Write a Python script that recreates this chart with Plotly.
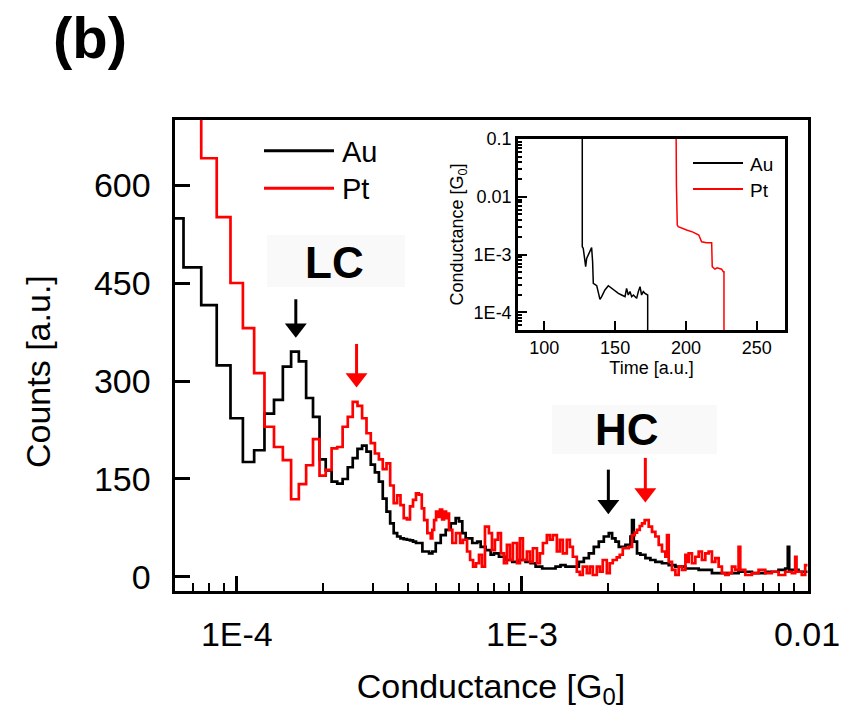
import math
import plotly.graph_objects as go

W, H = 857, 721

# ---------------- Main histogram data ----------------
# Au: linear bins, left edges in units of 1e-5 G0, with counts
au_bin_left_1e5 = [5.5, 6.5, 7.5, 8.5, 9.5, 10.5, 11.5, 12.5, 13.5, 14.5,
                   15.5, 16.5, 17.5, 18.5, 19.5, 20.5, 21.5, 22.5, 23.5, 24.5,
                   25.5, 26.5, 27.5, 28.5, 29.5, 30.5, 31.5, 32.5, 33.5, 34.5,
                   35.5, 36.5, 37.5, 38.5, 39.5, 40.5, 41.5, 42.5]
au_bin_counts = [549, 474, 416, 324, 243, 176, 194, 250, 271, 322,
                 345, 330, 274, 245, 180, 163, 146, 143, 150, 168,
                 182, 196, 201, 192, 172, 160, 146, 120, 100, 82,
                 67, 62, 59, 58, 57, 56, 54, 52]
# Au: high-conductance part (G0) where bins are narrower than the line
au_tail_g = [4.476e-4, 4.724e-4, 4.851e-4, 4.986e-4, 5.191e-4, 5.404e-4, 5.627e-4, 5.857e-4, 6.015e-4, 6.178e-4,
             6.349e-4, 6.696e-4, 6.972e-4, 7.166e-4, 7.462e-4, 7.769e-4, 7.978e-4, 8.307e-4, 8.768e-4, 9.249e-4,
             9.761e-4, 1.030e-3, 1.073e-3, 1.117e-3, 1.178e-3, 1.243e-3, 1.312e-3, 1.366e-3, 1.422e-3, 1.501e-3,
             1.584e-3, 1.649e-3, 1.717e-3, 1.787e-3, 1.861e-3, 1.938e-3, 2.017e-3, 2.072e-3, 2.129e-3, 2.187e-3,
             2.308e-3, 2.403e-3, 2.434e-3, 2.468e-3, 2.534e-3, 2.604e-3, 2.712e-3, 2.823e-3, 2.939e-3, 3.100e-3,
             3.273e-3, 3.455e-3, 3.745e-3, 4.169e-3, 4.640e-3, 5.170e-3, 5.755e-3, 6.409e-3, 7.140e-3, 7.946e-3,
             8.386e-3, 8.565e-3, 8.662e-3, 9.337e-3, 1.02e-2]
au_tail_counts = [39, 36, 39, 52, 64, 72, 82, 90, 85, 67,
                  59, 52, 54, 46, 41, 34, 36, 31, 26, 23,
                  26, 23, 21, 16, 13, 13, 16, 18, 16, 16,
                  23, 29, 36, 46, 54, 62, 67, 59, 54, 46,
                  49, 62, 87, 54, 36, 34, 29, 26, 23, 21,
                  18, 16, 13, 11, 6, 6, 8, 6, 8, 11,
                  13, 46, 11, 8, 8]

# Pt
pt_bin_left_1e5 = [5.5, 6.5, 7.5, 8.5, 9.5, 10.5, 11.5, 12.5, 13.5, 14.5,
                   15.5, 16.5, 17.5, 18.5, 19.5, 20.5, 21.5, 22.5, 23.5, 24.5,
                   25.5, 26.5, 27.5, 28.5, 29.5, 30.5, 31.5, 32.5, 33.5, 34.5,
                   35.5, 36.5, 37.5, 38.5, 39.5, 40.5, 41.5, 42.5, 43.5]
pt_bin_counts = [800, 760, 641, 551, 450, 381, 312, 230, 199, 179,
                 119, 142, 171, 211, 155, 164, 197, 199, 230, 245,
                 268, 262, 243, 220, 205, 189, 180, 165, 174, 140,
                 113, 125, 110, 90, 88, 108, 118, 128, 126]
pt_tail_g = [4.454e-4, 4.54e-4, 4.66e-4, 4.79e-4, 4.85e-4, 4.92e-4, 5.00e-4, 5.08e-4, 5.16e-4, 5.25e-4,
             5.33e-4, 5.42e-4, 5.51e-4, 5.55e-4, 5.70e-4, 5.87e-4, 6.07e-4, 6.21e-4, 6.42e-4, 6.58e-4,
             6.74e-4, 6.90e-4, 7.07e-4, 7.24e-4, 7.42e-4, 7.66e-4, 7.85e-4, 8.04e-4, 8.24e-4, 8.44e-4,
             8.65e-4, 8.86e-4, 9.08e-4, 9.30e-4, 9.61e-4, 9.84e-4, 1.008e-3, 1.041e-3, 1.067e-3, 1.093e-3,
             1.129e-3, 1.156e-3, 1.185e-3, 1.223e-3, 1.253e-3, 1.284e-3, 1.326e-3, 1.359e-3, 1.392e-3, 1.437e-3,
             1.473e-3, 1.509e-3, 1.558e-3, 1.596e-3, 1.635e-3, 1.689e-3, 1.730e-3, 1.773e-3, 1.831e-3, 1.876e-3,
             1.921e-3, 1.985e-3, 2.033e-3, 2.083e-3, 2.151e-3, 2.204e-3, 2.258e-3, 2.308e-3, 2.370e-3, 2.434e-3,
             2.488e-3, 2.534e-3, 2.590e-3, 2.639e-3, 2.696e-3, 2.785e-3, 2.860e-3, 2.939e-3, 3.019e-3, 3.100e-3,
             3.186e-3, 3.228e-3, 3.273e-3, 3.361e-3, 3.455e-3, 3.547e-3, 3.643e-3, 3.745e-3, 3.793e-3, 3.845e-3,
             3.949e-3, 4.058e-3, 4.169e-3, 4.280e-3, 4.399e-3, 4.519e-3, 4.640e-3, 4.769e-3, 4.898e-3, 5.030e-3,
             5.170e-3, 5.309e-3, 5.452e-3, 5.604e-3, 5.755e-3, 5.834e-3, 6.074e-3, 6.409e-3, 6.764e-3, 7.140e-3,
             7.528e-3, 7.946e-3, 8.386e-3, 8.847e-3, 9.092e-3, 9.189e-3, 9.590e-3, 9.855e-3, 1.02e-2]
pt_tail_counts = [105, 87, 67, 59, 72, 87, 100, 92, 103, 88,
                  100, 90, 97, 72, 52, 67, 52, 57, 39, 26,
                  16, 21, 34, 16, 77, 67, 41, 57, 67, 36,
                  21, 49, 26, 52, 21, 59, 26, 39, 23, 44,
                  21, 36, 52, 64, 57, 64, 39, 57, 36, 57,
                  46, 31, 8, 3, 16, 6, 16, 3, 16, 8,
                  26, 6, 21, 26, 30, 34, 44, 44, 46, 64,
                  68, 72, 78, 82, 87, 77, 69, 62, 49, 39,
                  31, 64, 23, 11, 3, 16, 11, 34, 23, 36,
                  21, 31, 39, 26, 36, 39, 23, 29, 16, 6,
                  3, 6, 16, 11, 46, 11, 3, 6, 11, 6,
                  8, 3, 8, 6, 31, 8, 3, 18, 18]

# Peak markers (arrow tips): conductance [G0], counts
lc_peak_g = {"Au": 1.61e-4, "Pt": 2.63e-4}
lc_peak_counts = {"Au": 370, "Pt": 294}
hc_peak_g = {"Au": 2.01e-3, "Pt": 2.71e-3}
hc_peak_counts = {"Au": 100, "Pt": 118}

# ---------------- Inset: single traces ----------------
au_time = [126.8, 126.8, 127.5, 129.2, 129.9, 131.1, 132.3, 133.4, 134.1, 134.6,
           137.0, 138.1, 139.3, 140.5, 142.8, 145.2, 147.6, 149.9, 152.3, 154.6,
           157.0, 158.1, 159.3, 160.5, 161.7, 162.9, 165.2, 166.4, 167.6, 168.7,
           169.9, 171.1, 172.3, 173.0, 173.0]
au_trace_g = [0.3, 1.37e-3, 1.28e-3, 6.2e-4, 8.6e-4, 9.8e-4, 1.12e-3, 1.32e-3, 7.55e-4, 3.18e-4,
              2.90e-4, 2.29e-4, 1.68e-4, 1.87e-4, 2.44e-4, 2.90e-4, 2.61e-4, 2.29e-4, 2.14e-4, 2.00e-4,
              1.87e-4, 2.61e-4, 2.00e-4, 2.29e-4, 1.87e-4, 2.00e-4, 1.75e-4, 2.29e-4, 2.79e-4, 2.00e-4,
              2.29e-4, 2.14e-4, 2.00e-4, 2.00e-4, 1e-5]
pt_time = [193.0, 193.0, 193.3, 193.9, 194.6, 200.5, 205.0, 209.1, 209.9, 211.1,
           214.6, 217.0, 218.2, 218.6, 220.5, 222.0, 225.2, 226.4, 226.9, 226.9]
pt_trace_g = [0.3, 0.0183, 0.016, 3.25e-3, 3.04e-3, 2.67e-3, 2.45e-3, 2.18e-3, 2.0e-3, 1.67e-3,
              1.6e-3, 1.57e-3, 1.6e-3, 6.2e-4, 5.6e-4, 5.9e-4, 5.6e-4, 5.07e-4, 5.07e-4, 1e-5]

# Tick labels
main_xtick_vals = [1e-4, 1e-3, 1e-2]
main_xtick_text = ["1E-4", "1E-3", "0.01"]
main_ytick_vals = [0, 150, 300, 450, 600]
inset_xtick_vals = [100, 150, 200, 250]
inset_ytick_vals = [1e-1, 1e-2, 1e-3, 1e-4]
inset_ytick_text = ["0.1", "0.01", "1E-3", "1E-4"]

series_colors = {"Au": "#000000", "Pt": "#ff0000"}

# ---------------- helpers (pixel -> paper) ----------------
def fx(p):
    return p / W


def fy(p):
    return 1 - p / H


FONT = "Liberation Sans, Arial, sans-serif"
COUNTS_PER_PX = 720.999 / 471.0  # main y axis: counts per pixel

au_g = [v * 1e-5 for v in au_bin_left_1e5] + au_tail_g
au_c = au_bin_counts + au_tail_counts
pt_g = [v * 1e-5 for v in pt_bin_left_1e5] + pt_tail_g
pt_c = pt_bin_counts + pt_tail_counts

fig = go.Figure()
fig.add_trace(go.Scatter(x=au_g, y=au_c, mode="lines", name="Au",
                         line=dict(color=series_colors["Au"], width=2.7, shape="hv"),
                         xaxis="x", yaxis="y", showlegend=False))
fig.add_trace(go.Scatter(x=pt_g, y=pt_c, mode="lines", name="Pt",
                         line=dict(color=series_colors["Pt"], width=2.7, shape="hv"),
                         xaxis="x", yaxis="y", showlegend=False))

# peak arrows: shaft (line) + head (triangle marker) pointing at each peak
for name in ["Au", "Pt"]:
    for g, c, L in [(lc_peak_g[name], lc_peak_counts[name], 36 if name == "Au" else 41),
                    (hc_peak_g[name], hc_peak_counts[name], 42)]:
        fig.add_trace(go.Scatter(x=[g, g], y=[c + L * COUNTS_PER_PX, c + 8 * COUNTS_PER_PX],
                                 mode="lines", line=dict(color=series_colors[name], width=3),
                                 hoverinfo="skip", showlegend=False, xaxis="x", yaxis="y"))
        fig.add_trace(go.Scatter(x=[g], y=[c + 7 * COUNTS_PER_PX], mode="markers",
                                 marker=dict(symbol="triangle-down", size=19, color=series_colors[name],
                                             line=dict(width=0)),
                                 hoverinfo="skip", showlegend=False, xaxis="x", yaxis="y"))

fig.add_trace(go.Scatter(x=au_time, y=au_trace_g, mode="lines", name="Au",
                         line=dict(color=series_colors["Au"], width=1.5),
                         xaxis="x2", yaxis="y2", showlegend=False))
fig.add_trace(go.Scatter(x=pt_time, y=pt_trace_g, mode="lines", name="Pt",
                         line=dict(color=series_colors["Pt"], width=1.5),
                         xaxis="x2", yaxis="y2", showlegend=False))

minor_main = [m * 10 ** e for e in (-5, -4, -3) for m in range(2, 10)]
minor_inset = [m * 10 ** e for e in (-5, -4, -3, -2) for m in range(2, 10)]

axis_common = dict(showgrid=False, zeroline=False, showline=True, linecolor="black",
                   mirror=True, ticks="inside", tickcolor="black", automargin=False)

fig.update_layout(
    width=W, height=H, autosize=False,
    margin=dict(l=0, r=0, t=0, b=0, pad=0),
    paper_bgcolor="white", plot_bgcolor="white",
    showlegend=False,
    font=dict(family=FONT, color="black"),
    xaxis=dict(axis_common, type="log", range=[-4.2187, -1.9982],
               domain=[fx(174.5), fx(807.5)], anchor="y",
               linewidth=3, ticklen=15, tickwidth=2.5,
               tickvals=main_xtick_vals, ticktext=main_xtick_text,
               tickfont=dict(size=34, family=FONT), ticklabelstandoff=12,
               minor=dict(ticks="inside", ticklen=8, tickwidth=2, tickcolor="black",
                          tickmode="array", tickvals=minor_main),
               title=dict(text="Conductance [G<sub>0</sub>]", font=dict(size=34, family=FONT), standoff=22)),
    yaxis=dict(axis_common, range=[-20.7, 700.3],
               domain=[fy(590.5), fy(119.5)], anchor="x",
               linewidth=3, ticklen=15, tickwidth=2.5,
               tickvals=main_ytick_vals, tickfont=dict(size=34, family=FONT),
               ticklabelstandoff=14),
    xaxis2=dict(axis_common, range=[81.4, 270.0],
                domain=[fx(518), fx(785)], anchor="y2",
                linewidth=2.5, ticklen=9, tickwidth=2,
                tickvals=inset_xtick_vals, tickfont=dict(size=18, family=FONT),
                title=dict(text="Time [a.u.]", font=dict(size=18, family=FONT), standoff=4)),
    yaxis2=dict(axis_common, type="log", range=[-4.305, -0.998],
                domain=[fy(330), fy(139)], anchor="x2",
                linewidth=2.5, ticklen=9, tickwidth=2,
                tickvals=inset_ytick_vals, ticktext=inset_ytick_text,
                tickfont=dict(size=18, family=FONT),
                minor=dict(ticks="inside", ticklen=4, tickwidth=1.5, tickcolor="black",
                           tickmode="array", tickvals=minor_inset),
                title=dict(text="Conductance [G<sub>0</sub>]", font=dict(size=18, family=FONT), standoff=6)),
)

shapes = []
# faint boxes behind LC / HC labels
shapes.append(dict(type="rect", xref="paper", yref="paper", layer="below",
                   x0=fx(267), x1=fx(405), y0=fy(287), y1=fy(235),
                   fillcolor="#f9f9f9", line=dict(width=0)))
shapes.append(dict(type="rect", xref="paper", yref="paper", layer="below",
                   x0=fx(552), x1=fx(717), y0=fy(454), y1=fy(405),
                   fillcolor="#f9f9f9", line=dict(width=0)))
annotations = []
# main legend (drawn manually to match long line samples)
for i, name in enumerate(["Au", "Pt"]):
    yy = [150.7, 188.3][i]
    shapes.append(dict(type="line", xref="paper", yref="paper",
                       x0=fx(264), x1=fx(334), y0=fy(yy), y1=fy(yy),
                       line=dict(color=series_colors[name], width=3)))
    annotations.append(dict(xref="paper", yref="paper", x=fx(340), y=fy(yy + 1),
                            text=name, showarrow=False, xanchor="left", yanchor="middle",
                            font=dict(size=29, family=FONT, color="black")))
# inset legend
for i, name in enumerate(["Au", "Pt"]):
    yy = [163, 189][i]
    shapes.append(dict(type="line", xref="paper", yref="paper",
                       x0=fx(693), x1=fx(743), y0=fy(yy), y1=fy(yy),
                       line=dict(color=series_colors[name], width=2)))
    annotations.append(dict(xref="paper", yref="paper", x=fx(748), y=fy(yy + 1),
                            text=name, showarrow=False, xanchor="left", yanchor="middle",
                            font=dict(size=19, family=FONT, color="black")))

annotations += [
    dict(xref="paper", yref="paper", x=fx(334), y=fy(262), text="<b>LC</b>", showarrow=False,
         xanchor="center", yanchor="middle", font=dict(size=44, family=FONT, color="black")),
    dict(xref="paper", yref="paper", x=fx(627), y=fy(430), text="<b>HC</b>", showarrow=False,
         xanchor="center", yanchor="middle", font=dict(size=44, family=FONT, color="black")),
    dict(xref="paper", yref="paper", x=fx(90), y=fy(38), text="<b>(b)</b>", showarrow=False,
         xanchor="center", yanchor="middle", font=dict(size=58, family=FONT, color="black")),
    dict(xref="paper", yref="paper", x=fx(38), y=fy(372), text="Counts [a.u.]", showarrow=False,
         textangle=-90, xanchor="center", yanchor="middle", font=dict(size=34, family=FONT, color="black")),
]

fig.update_layout(shapes=shapes, annotations=annotations)
fig.write_html("out.html")
